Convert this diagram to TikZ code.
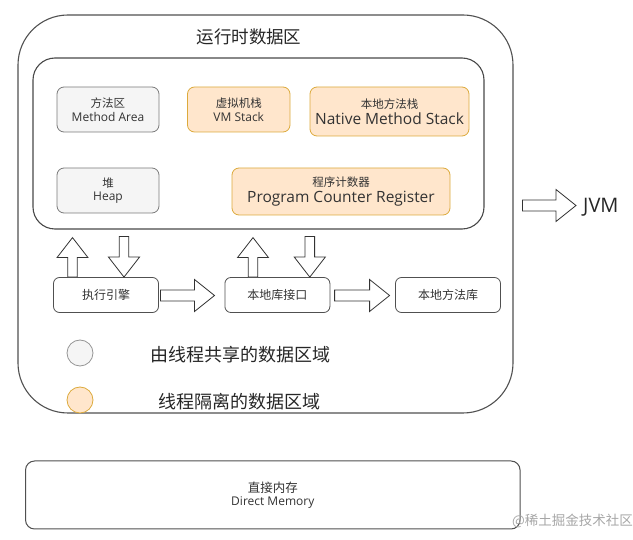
\documentclass[tikz,border=0pt]{standalone}
\usepackage{fontspec}
\setmainfont{Open Sans}
\newfontfamily\cjk{Noto Sans CJK SC}
\usetikzlibrary{calc}
\definecolor{grayfill}{HTML}{F5F5F5}
\definecolor{graydraw}{HTML}{7A7A7A}
\definecolor{orfill}{HTML}{FFE6CC}
\definecolor{ordraw}{HTML}{DCAA3C}
\definecolor{txt}{HTML}{333333}
\definecolor{frame}{HTML}{505050}
\newcommand\fs[2]{\fontsize{#1}{#2}\selectfont}
\newcommand\rarrow[2]{\draw[blk] let \p1=(#1), \p2=(#2) in
  (\x1,\y1+5.5pt) -- (\x2-20pt,\y1+5.5pt) -- (\x2-20pt,\y1+16pt) -- (\x2,\y1)
  -- (\x2-20pt,\y1-16pt) -- (\x2-20pt,\y1-5.5pt) -- (\x1,\y1-5.5pt) -- cycle;}
\newcommand\uparr[2]{\draw[blk] let \p1=(#1), \p2=(#2) in
  (\x1-4.8pt,\y1) -- (\x1-4.8pt,\y2-20pt) -- (\x1-15.5pt,\y2-20pt) -- (\x1,\y2)
  -- (\x1+15.5pt,\y2-20pt) -- (\x1+4.8pt,\y2-20pt) -- (\x1+4.8pt,\y1) -- cycle;}
\newcommand\downarr[2]{\draw[blk] let \p1=(#1), \p2=(#2) in
  (\x1-4.8pt,\y1) -- (\x1-4.8pt,\y2+20pt) -- (\x1-15.5pt,\y2+20pt) -- (\x1,\y2)
  -- (\x1+15.5pt,\y2+20pt) -- (\x1+4.8pt,\y2+20pt) -- (\x1+4.8pt,\y1) -- cycle;}
\begin{document}
\begin{tikzpicture}[x=1pt,y=-1pt,
  box/.style={draw, rounded corners=7pt, align=center, inner sep=0pt, text=txt, line width=0.8pt},
  gbox/.style={box, fill=grayfill, draw=graydraw},
  obox/.style={box, fill=orfill, draw=ordraw},
  wbox/.style={box, fill=white, draw=frame, rounded corners=6pt},
  blk/.style={draw=black!80, fill=white, line width=0.8pt, line join=miter},
  lbl/.style={inner sep=0pt, text=black!85}
]
\useasboundingbox (0,0) rectangle (633,540);
% outer and inner frames
\node[draw=frame, line width=1.1pt, rounded corners=50pt, minimum width=495pt, minimum height=398pt, inner sep=0pt] (outer) at (265.5,214) {};
\node[lbl, font=\cjk\fs{17.5}{20}] (title) at (249,37) {运行时数据区};
\node[draw=frame!90!black, line width=1.1pt, rounded corners=22pt, minimum width=451pt, minimum height=171pt, inner sep=0pt] (inner) at (258.5,143.5) {};
% areas
\node[gbox, minimum width=102pt, minimum height=45pt] (ma) at (108,109.5)
  {{\cjk\fs{11.5}{15}方法区}\\[1.5pt]{\fs{12}{15}Method Area}};
\node[obox, minimum width=102.5pt, minimum height=45pt] (vm) at (238.75,109.5)
  {{\cjk\fs{11.5}{15}虚拟机栈}\\[1.5pt]{\fs{12}{15}VM Stack}};
\node[obox, minimum width=159pt, minimum height=49pt] (nms) at (389.5,111.5)
  {{\cjk\fs{11.5}{15}本地方法栈}\\[2.5pt]{\fs{15.5}{17}Native Method Stack}};
\node[gbox, minimum width=102pt, minimum height=45pt] (heap) at (108,190.5)
  {{\cjk\fs{11.5}{15}堆}\\[1.5pt]{\fs{12}{15}Heap}};
\node[obox, minimum width=218pt, minimum height=47pt] (pcr) at (341,191.5)
  {{\cjk\fs{11.5}{15}程序计数器}\\[2.5pt]{\fs{15.5}{17}Program Counter Register}};
% bottom row
\node[wbox, minimum width=105pt, minimum height=35pt, font=\cjk\fs{12}{15}] (eng) at (106,295) {执行引擎};
\node[wbox, minimum width=105pt, minimum height=35pt, font=\cjk\fs{12}{15}] (nli) at (277.4,295) {本地库接口};
\node[wbox, minimum width=105pt, minimum height=35pt, font=\cjk\fs{12}{15}] (nml) at (448,295) {本地方法库};
% JVM
\node[lbl, font=\fs{20}{22}, anchor=west] (jvm) at (583,207) {JVM};
% legend
\node[circle, minimum size=26pt, inner sep=0pt, fill=grayfill, draw=graydraw!80, line width=0.8pt] (lg1) at (80,353) {};
\node[lbl, anchor=west, font=\cjk\fs{18}{20}] (lt1) at (150,355) {由线程共享的数据区域};
\node[circle, minimum size=26pt, inner sep=0pt, fill=orfill, draw=ordraw, line width=0.8pt] (lg2) at (80,400) {};
\node[lbl, anchor=west, font=\cjk\fs{18}{20}] (lt2) at (158,401.5) {线程隔离的数据区域};
% direct memory
\node[wbox, rounded corners=9pt, minimum width=494.5pt, minimum height=68pt, line width=1pt] (dm) at (272.8,495)
  {{\cjk\fs{12.5}{15}直接内存}\\[1pt]{\fs{12}{15}Direct Memory}};
% watermark
\node[inner sep=0pt, anchor=east, text=black!35, font=\cjk\fs{13.5}{15}] (wm) at (633,521) {@稀土掘金技术社区};
% block arrows
\coordinate (r1s) at ($(eng.east)+(1.5,0.5)$);
\coordinate (r1e) at ($(nli.west)+(-10,0.5)$);
\rarrow{r1s}{r1e}
\coordinate (r2s) at ($(nml.west)+(-60.5,0.5)$);
\coordinate (r2e) at ($(nml.west)+(-5.5,0.5)$);
\rarrow{r2s}{r2e}
\coordinate (js) at ($(outer.east)+(9,-8.5)$);
\coordinate (je) at ($(jvm.west)+(-7,-1.5)$);
\rarrow{js}{je}
\coordinate (u1s) at ($(eng.north)+(-33.5,0)$);
\coordinate (u1e) at ($(eng.north)+(-33.5,-39.5)$);
\uparr{u1s}{u1e}
\coordinate (d1s) at ($(eng.north)+(18,-40.5)$);
\coordinate (d1e) at ($(eng.north)+(18,0)$);
\downarr{d1s}{d1e}
\coordinate (u2s) at ($(nli.north)+(-24.4,0)$);
\coordinate (u2e) at ($(nli.north)+(-24.4,-39.5)$);
\uparr{u2s}{u2e}
\coordinate (d2s) at ($(nli.north)+(32.4,-40.5)$);
\coordinate (d2e) at ($(nli.north)+(32.4,0)$);
\downarr{d2s}{d2e}
\end{tikzpicture}
\end{document}
